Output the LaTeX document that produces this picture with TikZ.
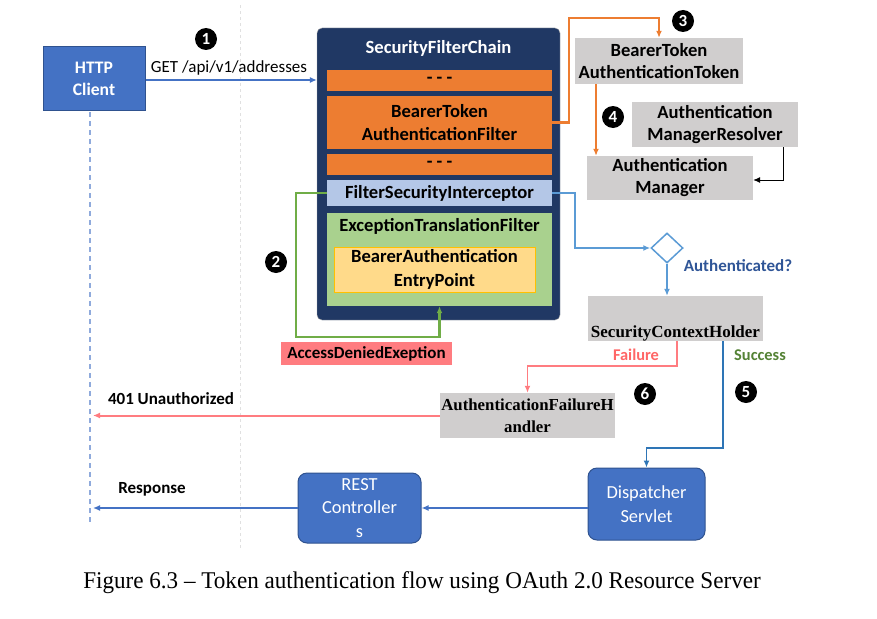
\documentclass[tikz,border=0pt]{standalone}
\usepackage{fontspec}
\setmainfont{Carlito}
\newfontfamily\timesf{Liberation Serif}
\newfontfamily\capf[FakeStretch=0.963]{Liberation Serif}
\usetikzlibrary{shapes.geometric,arrows.meta,calc}
\definecolor{cblue}{HTML}{4472C4}
\definecolor{cblueb}{HTML}{2F528F}
\definecolor{cnavy}{HTML}{203864}
\definecolor{corange}{HTML}{ED7D31}
\definecolor{clblue}{HTML}{B4C7E7}
\definecolor{cgreen}{HTML}{A9D18E}
\definecolor{cyel}{HTML}{FFDA8A}
\definecolor{cyelb}{HTML}{FFC000}
\definecolor{cgray}{HTML}{D0CECE}
\definecolor{cred}{HTML}{FF7C80}
\definecolor{cline}{HTML}{5B9BD5}
\definecolor{cgline}{HTML}{70AD47}
\definecolor{cdblue}{HTML}{2E75B6}
\definecolor{ctxtblue}{HTML}{2F5597}
\definecolor{cfail}{HTML}{FF6666}
\definecolor{csucc}{HTML}{548235}
\definecolor{clife}{HTML}{8FAADC}
\begin{document}
\begin{tikzpicture}[x=1pt,y=-1pt,
  every node/.style={inner sep=0pt, align=center},
  bluebox/.style={fill=cblue, draw=cblueb, line width=1pt, text=white},
  bar/.style={fill=corange, minimum width=225pt, font=\fontsize{18.6}{23}\selectfont\bfseries},
  gbox/.style={fill=cgray, font=\fontsize{18.6}{22}\selectfont\bfseries},
  num/.style={circle, fill=black, text=white, minimum size=22pt, font=\fontsize{17}{17}\selectfont\bfseries},
  tip/.style={-{Latex[length=7pt,width=6pt]}},
  lbl/.style={font=\fontsize{17}{19}\selectfont\bfseries}
]
\useasboundingbox (0,0) rectangle (877,618);
% background guide lines
\draw[black!12, dashed, line width=0.8pt] (240,5) -- (240,550);
\coordinate (lifetop) at (90,112);
\coordinate (lifebot) at (90,525);
\draw[clife, dash pattern=on 5pt off 4pt, line width=1.2pt] (lifetop) -- (lifebot);

% HTTP client
\node[bluebox, minimum width=102pt, minimum height=63pt, font=\fontsize{17.6}{22}\selectfont\bfseries] (http) at (94,78.5) {HTTP\\Client};

% Security filter chain
\node[fill=cnavy, draw=black!35, rounded corners=5pt, minimum width=243pt, minimum height=292pt] (sfc) at (438.5,174) {};
\node[text=white, font=\fontsize{18.6}{20}\selectfont\bfseries] (sfct) at (438.5,48) {SecurityFilterChain};
\node[bar, minimum height=21pt] (dash1) at (439.5,80.5) {- - -};
\node[bar, minimum height=53pt] (btaf) at (439.5,122.5) {BearerToken\\AuthenticationFilter};
\node[bar, minimum height=21pt] (dash2) at (439.5,164.5) {- - -};
\node[bar, fill=clblue, minimum height=26pt] (fsi) at (439.5,193) {FilterSecurityInterceptor};
\node[fill=cgreen, minimum width=225pt, minimum height=93pt] (etf) at (439.5,259.5) {};
\node[font=\fontsize{18.6}{20}\selectfont\bfseries] (etft) at (439.5,226) {ExceptionTranslationFilter};
\node[fill=cyel, draw=cyelb, line width=0.8pt, minimum width=201pt, minimum height=45pt, font=\fontsize{18.6}{24}\selectfont\bfseries] (bae) at (434.5,269.5) {BearerAuthentication\\EntryPoint};

\node[fill=cred, minimum width=171pt, minimum height=23pt, font=\fontsize{17}{19}\selectfont\bfseries] (ade) at (366.5,353.5) {AccessDeniedExeption};

% right side gray boxes
\node[gbox, minimum width=168pt, minimum height=46pt] (bat) at (659,61) {BearerToken\\AuthenticationToken};
\node[gbox, minimum width=166pt, minimum height=45pt] (amr) at (715,124.5) {Authentication\\ManagerResolver};
\node[gbox, minimum width=166pt, minimum height=44pt] (am) at (670,178) {Authentication\\Manager};
\node[diamond, draw=cline, fill=white, line width=1.5pt, minimum width=32pt, minimum height=30pt] (dia) at (667,248) {};
\node[lbl, text=ctxtblue] (authq) at (738,266) {Authenticated?};
\node[fill=cgray, minimum width=175pt, minimum height=45pt] (sch) at (675.5,318.5) {};
\node[font=\timesf\fontsize{17}{19}\selectfont\bfseries, anchor=base] (scht) at (675.5,337) {SecurityContextHolder};
\node[fill=cgray, minimum width=175pt, minimum height=45pt, font=\timesf\fontsize{16.8}{22}\selectfont\bfseries] (afh) at (527.5,415.5) {AuthenticationFailureH\\andler};
\node[font=\fontsize{16.4}{18}\selectfont\bfseries, text=cfail] (fail) at (636,355) {Failure};
\node[font=\fontsize{16.4}{18}\selectfont\bfseries, text=csucc] (succ) at (760,355) {Success};

% bottom blue boxes
\node[bluebox, rounded corners=9pt, minimum width=117pt, minimum height=72pt, font=\fontsize{18.4}{24}\selectfont] (ds) at (646.5,504) {Dispatcher\\Servlet};
\node[bluebox, rounded corners=9pt, minimum width=123pt, minimum height=70pt, font=\fontsize{18.4}{23.5}\selectfont] (rc) at (359.5,508) {REST\\Controller\\s};

% numbers
\node[num] (n1) at (206,39) {1};
\node[num] (n2) at (276,262) {2};
\node[num] (n3) at (683,21) {3};
\node[num] (n4) at (613,117) {4};
\node[num] (n5) at (746,392) {5};
\node[num] (n6) at (645,394) {6};

% connectors
\draw[tip, cblue, line width=1.2pt] (http.east |- 0,80) -- (sfc.west |- 0,80);
\node[font=\fontsize{17}{19}\selectfont] (getl) at (229,68) {GET /api/v1/addresses};
\draw[tip, corange, line width=2.2pt] (btaf.east) -- (569,122.5) -- (569,18) -| (bat.north);
\draw[tip, corange, line width=2.2pt] (bat.south -| 596,0) -- (am.north -| 596,0);
\draw[tip, black, line width=0.9pt] (amr.south -| 783,0) -- (783,180) -- (am.east |- 0,180);
\draw[tip, cgline, line width=2.2pt] (fsi.west) -- (296,193) -- (296,337) -| (etf.south);
\draw[tip, cline, line width=2.2pt] (fsi.east) -- (575,193) -- (575,248) -- (dia.west);
\draw[tip, cline, line width=2.2pt] (dia.south) -- (sch.north -| dia.south);
\draw[tip, cred, line width=1.8pt] (sch.south -| 677,0) -- (677,366) -| (afh.north);
\draw[tip, cdblue, line width=1.8pt] (sch.south -| 723,0) -- (723,448) -| (ds.north);
\draw[tip, cred, line width=2pt] (afh.west) -- (afh.west -| 93,0);
\node[lbl] (l401) at (171,399) {401 Unauthorized};
\draw[tip, cblue, line width=2pt] (rc.east -| ds.west) -- (rc.east);
\draw[tip, cblue, line width=2pt] (rc.west) -- (rc.west -| 93,0);
\node[lbl] (resp) at (152,489) {Response};

% caption
\node[font=\capf\fontsize{24}{26}\selectfont, anchor=base] (cap) at (422,588) {Figure 6.3 – Token authentication flow using OAuth 2.0 Resource Server};
\end{tikzpicture}
\end{document}
